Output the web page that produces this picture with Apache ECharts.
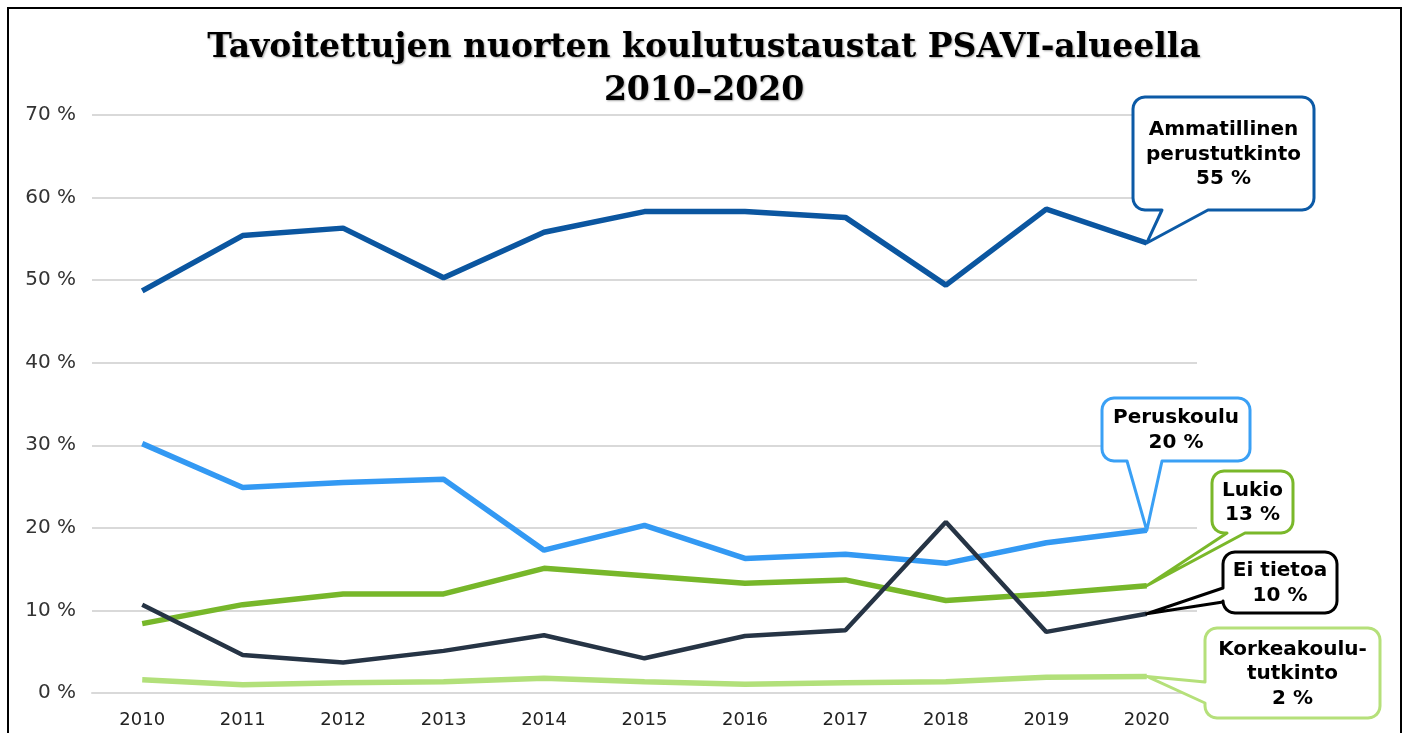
<!DOCTYPE html>
<html>
<head>
<meta charset="utf-8">
<script src="https://cdn.jsdelivr.net/npm/echarts@6/dist/echarts.min.js"></script>
<style>
  html, body { margin: 0; padding: 0; background: #fff; }
  #chart { width: 1408px; height: 733px; }
</style>
</head>
<body>
<div id="chart"></div>
<script>
const years = ["2010", "2011", "2012", "2013", "2014", "2015", "2016", "2017", "2018", "2019", "2020"];
const yTicks = [0, 10, 20, 30, 40, 50, 60, 70];

const peruskoulu = [30.2, 24.9, 25.5, 25.9, 17.3, 20.3, 16.3, 16.8, 15.7, 18.2, 19.7];
const lukio = [8.4, 10.7, 12.0, 12.0, 15.1, 14.2, 13.3, 13.7, 11.2, 12.0, 13.0];
const ammatillinen = [48.7, 55.4, 56.3, 50.3, 55.8, 58.3, 58.3, 57.6, 49.4, 58.6, 54.5];
const korkeakoulu = [1.6, 1.0, 1.25, 1.35, 1.8, 1.35, 1.05, 1.25, 1.35, 1.9, 2.0];
const eiTietoa = [10.7, 4.6, 3.7, 5.1, 7.0, 4.2, 6.9, 7.6, 20.7, 7.4, 9.6];

const seriesNames = ["Peruskoulu", "Lukio", "Ammatillinen perustutkinto", "Korkeakoulututkinto", "Ei tietoa"];
const calloutNames = ["Peruskoulu", "Lukio", "Ammatillinen\nperustutkinto", "Korkeakoulu-\ntutkinto", "Ei tietoa"];
const colors = ["#3399f3", "#77b72a", "#0b56a0", "#b2e07a", "#263445"];
const calloutColors = ["#3aa0f5", "#7ab82a", "#0c5aa6", "#b5e07a", "#000000"];

const chart = echarts.init(document.getElementById("chart"));
const allData = [peruskoulu, lukio, ammatillinen, korkeakoulu, eiTietoa];

const option = {
  animation: false,
  title: {
    text: "Tavoitettujen nuorten koulutustaustat PSAVI-alueella\n2010\u20132020",
    left: "center",
    top: 22,
    textStyle: {
      fontFamily: "DejaVu Serif",
      fontWeight: "bold",
      fontSize: 33,
      lineHeight: 43,
      color: "#000",
      textShadowColor: "rgba(0,0,0,0.35)",
      textShadowBlur: 2,
      textShadowOffsetX: 1,
      textShadowOffsetY: 1
    }
  },
  grid: { left: 92, right: 211, top: 115, bottom: 40 },
  xAxis: {
    type: "category",
    data: years,
    boundaryGap: true,
    axisLine: { show: true, lineStyle: { color: "#d9d9d9", width: 2 } },
    axisTick: { show: false },
    axisLabel: { fontFamily: "DejaVu Sans", fontSize: 18, color: "#222", margin: 18 }
  },
  yAxis: {
    type: "value",
    min: yTicks[0],
    max: yTicks[yTicks.length - 1],
    interval: 10,
    axisLine: { show: false },
    axisTick: { show: false },
    axisLabel: { fontFamily: "DejaVu Sans", fontSize: 20, color: "#333", margin: 16, formatter: "{value} %" },
    splitLine: { lineStyle: { color: "#d9d9d9", width: 2 } }
  },
  series: allData.map((d, i) => ({
    name: seriesNames[i],
    type: "line",
    data: d,
    symbol: "none",
    lineStyle: { color: colors[i], width: i === 4 ? 4.5 : 5.5 },
    z: 2 + i
  }))
};
chart.setOption(option);

// corner arc points (center cx,cy, from angle a0 to a1)
function arc(cx, cy, r, a0, a1) {
  const pts = [];
  for (let k = 0; k <= 6; k++) {
    const a = a0 + (a1 - a0) * k / 6;
    pts.push([cx + r * Math.cos(a), cy + r * Math.sin(a)]);
  }
  return pts;
}

// speech-bubble outline: rounded box with a tail pointing to tip (clockwise)
function bubblePoints(b, tail, tip) {
  const x = b.x, y = b.y, w = b.w, h = b.h, r = 12, P = Math.PI;
  let pts = [];
  pts = pts.concat(arc(x + w - r, y + r, r, -P / 2, 0));
  pts = pts.concat(arc(x + w - r, y + h - r, r, 0, P / 2));
  if (tail.side === "bottom") {
    pts.push([tail.b, y + h], tip, [tail.a, y + h]);
  }
  pts = pts.concat(arc(x + r, y + h - r, r, P / 2, P));
  if (tail.side === "left") {
    pts.push([x, tail.b], tip, [x, tail.a]);
  }
  pts = pts.concat(arc(x + r, y + r, r, P, 1.5 * P));
  return pts;
}

const boxes = [
  { x: 1102, y: 398, w: 148, h: 63 },
  { x: 1212, y: 471, w: 81, h: 62 },
  { x: 1133, y: 97, w: 181, h: 113 },
  { x: 1205, y: 628, w: 175, h: 90 },
  { x: 1223, y: 552, w: 114, h: 61 }
];
const tails = [
  { side: "bottom", a: 1127, b: 1162 },
  { side: "bottom", a: 1227, b: 1245 },
  { side: "bottom", a: 1162, b: 1208 },
  { side: "left", a: 682, b: 703 },
  { side: "left", a: 588, b: 602 }
];

const last = years.length - 1;
const graphic = [{
  type: "rect",
  shape: { x: 8, y: 8, width: 1393, height: 740 },
  style: { fill: "none", stroke: "#000", lineWidth: 2 },
  silent: true
}];
allData.forEach((d, i) => {
  const tip = chart.convertToPixel({ seriesIndex: i }, [last, d[last]]);
  const b = boxes[i];
  graphic.push({
    type: "polygon",
    shape: { points: bubblePoints(b, tails[i], tip) },
    style: { fill: "#fff", stroke: calloutColors[i], lineWidth: 3, lineJoin: "round" },
    z: 100
  });
  graphic.push({
    type: "text",
    x: b.x + b.w / 2,
    y: b.y + b.h / 2 + 1,
    style: {
      text: calloutNames[i] + "\n" + Math.round(d[last]) + " %",
      fontFamily: "DejaVu Sans",
      fontWeight: "bold",
      fontSize: 20,
      lineHeight: 24.5,
      fill: "#000",
      align: "center",
      verticalAlign: "middle"
    },
    z: 101
  });
});
chart.setOption({ graphic: graphic });
</script>
</body>
</html>
